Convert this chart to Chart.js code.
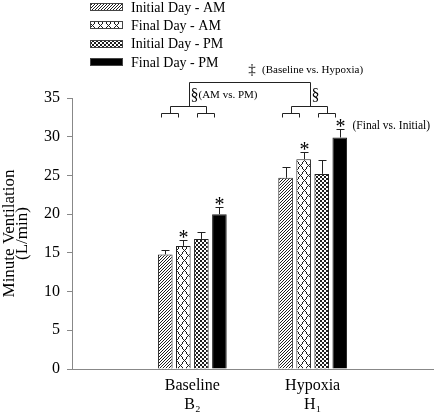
<!DOCTYPE html>
<html><head><meta charset="utf-8">
<script src="https://cdn.jsdelivr.net/npm/chart.js@4/dist/chart.umd.min.js"></script>
<style>html,body{margin:0;padding:0;background:#fff}#wrap{width:440px;height:420px}</style>
</head><body><div id="wrap"><canvas id="c" width="440" height="420"></canvas></div>
<script>
// ---- data ----
const categories = [['Baseline', 'B\u2082'], ['Hypoxia', 'H\u2081']];
const seriesNames = ['Initial Day - AM', 'Final Day - AM', 'Initial Day - PM', 'Final Day - PM'];
const initialAM = [14.8, 24.7];
const finalAM   = [15.9, 27.1];
const initialPM = [16.8, 25.2];
const finalPM   = [20.0, 29.9];
const errInitialAM = [0.6, 1.4];
const errFinalAM   = [0.8, 0.9];
const errInitialPM = [0.9, 1.8];
const errFinalPM   = [0.9, 1.1];
const sigInitialAM = [false, false];
const sigFinalAM   = [true, true];
const sigInitialPM = [false, false];
const sigFinalPM   = [true, true];
const yTicks = [0, 5, 10, 15, 20, 25, 30, 35];
const yTitle = ['Minute Ventilation', '(L/min)'];
const noteTop = '(Baseline vs. Hypoxia)';
const noteGroup = '(AM vs. PM)';
const noteStar = '(Final vs. Initial)';
// annotation levels in value units
const pairLevel = 33.0, groupLevel = 34.0, topLevel = 37.1;

const SERIF = '"Liberation Serif", "Times New Roman", serif';

function makePattern(kind) {
  const c = document.createElement('canvas');
  let w = 4, h = 4;
  if (kind === 'diag') { w = 3; h = 3; }
  if (kind === 'diamond') { w = 8; h = 10; }
  c.width = w; c.height = h;
  const ctx = c.getContext('2d');
  const img = ctx.createImageData(w, h);
  const set = (x, y, v) => { const i = (y * w + x) * 4; img.data[i] = v; img.data[i+1] = v; img.data[i+2] = v; img.data[i+3] = 255; };
  for (let y = 0; y < h; y++) for (let x = 0; x < w; x++) {
    let dark = false;
    if (kind === 'diag') dark = ((x + y) % 3) === 2;
    if (kind === 'check') dark = ((Math.floor(x / 2) + Math.floor(y / 2)) % 2) === 0;
    if (kind === 'diamond') {
      const a = Math.round(y * w / h);
      dark = (x === a % w) || (x === (w - a) % w);
    }
    set(x, y, dark ? 30 : 255);
  }
  ctx.putImageData(img, 0, 0);
  return ctx.createPattern(c, 'repeat');
}

const fills = [makePattern('diag'), makePattern('diamond'), makePattern('check'), '#000'];
const values = [initialAM, finalAM, initialPM, finalPM];
const errors = [errInitialAM, errFinalAM, errInitialPM, errFinalPM];
const sigs = [sigInitialAM, sigFinalAM, sigInitialPM, sigFinalPM];

// pad categories so the x axis runs full width
const labels = [''].concat(categories).concat(['']);
const pad = arr => [null].concat(arr).concat([null]);

const datasets = seriesNames.map((name, i) => ({
  label: name,
  data: pad(values[i]),
  backgroundColor: fills[i],
  borderColor: '#222',
  borderWidth: 1,
  categoryPercentage: 0.6,
  barPercentage: 0.81
}));

const legendPlugin = {
  id: 'customLegend',
  afterDraw(chart) {
    const ctx = chart.ctx;
    ctx.save();
    chart.data.datasets.forEach((ds, i) => {
      const cy = 7 + i * 18.3;
      const bx = 90, bw = 33, bh = 8;
      ctx.fillStyle = ds.backgroundColor;
      ctx.fillRect(bx, Math.round(cy - bh / 2), bw, bh);
      ctx.strokeStyle = '#444';
      ctx.lineWidth = 1;
      ctx.strokeRect(bx + 0.5, Math.round(cy - bh / 2) + 0.5, bw - 1, bh - 1);
      ctx.fillStyle = '#000';
      ctx.font = '14px ' + SERIF;
      ctx.textBaseline = 'middle';
      ctx.textAlign = 'left';
      ctx.fillText(ds.label, 131, cy + 1);
    });
    ctx.restore();
  }
};

function drawStar(ctx, x, cy) {
  ctx.font = '20px ' + SERIF;
  const m = ctx.measureText('*');
  const a = m.actualBoundingBoxAscent, d = m.actualBoundingBoxDescent;
  ctx.textAlign = 'center';
  ctx.textBaseline = 'alphabetic';
  ctx.fillText('*', x, cy + (a - d) / 2);
  return m;
}

const annotPlugin = {
  id: 'annot',
  afterDatasetsDraw(chart) {
    const ctx = chart.ctx;
    const ys = chart.scales.y;
    ctx.save();
    ctx.strokeStyle = '#222';
    ctx.fillStyle = '#000';
    ctx.lineWidth = 1;
    const metas = chart.data.datasets.map((d, i) => chart.getDatasetMeta(i));
    // error bars + stars
    for (let s = 0; s < metas.length; s++) {
      for (let g = 0; g < categories.length; g++) {
        const bar = metas[s].data[g + 1];
        const v = values[s][g], e = errors[s][g];
        const x = Math.round(bar.x) + 0.5;
        const yTop = Math.round(ys.getPixelForValue(v + e)) + 0.5;
        const yBar = ys.getPixelForValue(v);
        ctx.beginPath();
        ctx.moveTo(x, yBar); ctx.lineTo(x, yTop);
        ctx.moveTo(x - 4, yTop); ctx.lineTo(x + 4, yTop);
        ctx.stroke();
        if (sigs[s][g]) {
          drawStar(ctx, x, yTop - 7);
          if (s === 3 && g === categories.length - 1) {
            ctx.font = '11.5px ' + SERIF;
            ctx.textAlign = 'left';
            ctx.textBaseline = 'middle';
            ctx.fillText(noteStar, x + 12, yTop - 4);
          }
        }
      }
    }
    // brackets
    const yPair = Math.round(ys.getPixelForValue(pairLevel)) + 0.5;
    const yGroup = Math.round(ys.getPixelForValue(groupLevel)) + 0.5;
    const yTopL = Math.round(ys.getPixelForValue(topLevel)) + 0.5;
    const legLen = 4;
    const mids = [];
    for (let g = 0; g < categories.length; g++) {
      const bx = metas.map(m => m.data[g + 1].x);
      const pairMid = [];
      [[0, 1], [2, 3]].forEach(([a, b]) => {
        const xl = Math.round(bx[a] - 4) + 0.5, xr = Math.round(bx[b] - 5) + 0.5;
        ctx.beginPath();
        ctx.moveTo(xl, yPair + legLen); ctx.lineTo(xl, yPair); ctx.lineTo(xr, yPair); ctx.lineTo(xr, yPair + legLen);
        const xm = Math.round((xl + xr) / 2) + 0.5;
        ctx.moveTo(xm, yPair); ctx.lineTo(xm, yGroup);
        ctx.stroke();
        pairMid.push(xm);
      });
      ctx.beginPath();
      ctx.moveTo(pairMid[0], yGroup); ctx.lineTo(pairMid[1], yGroup);
      const gm = Math.round((pairMid[0] + pairMid[1]) / 2) + 0.5;
      ctx.moveTo(gm, yGroup); ctx.lineTo(gm, yTopL);
      ctx.stroke();
      mids.push(gm);
      // section symbol
      ctx.font = '16px ' + SERIF;
      ctx.textAlign = 'left';
      ctx.textBaseline = 'middle';
      const sy = (yGroup + yTopL) / 2 + 1;
      ctx.fillText('\u00a7', gm + 1, sy);
      if (g === 0) {
        const w = ctx.measureText('\u00a7').width;
        ctx.font = '11px ' + SERIF;
        ctx.fillText(noteGroup, gm + 1 + w, sy);
      }
    }
    ctx.beginPath();
    ctx.moveTo(mids[0], yTopL); ctx.lineTo(mids[mids.length - 1], yTopL);
    ctx.stroke();
    const cx = (mids[0] + mids[mids.length - 1]) / 2;
    ctx.font = '15px ' + SERIF;
    ctx.textAlign = 'center';
    ctx.textBaseline = 'middle';
    ctx.fillText('\u2021', cx + 2, yTopL - 12);
    ctx.font = '11px ' + SERIF;
    ctx.textAlign = 'left';
    ctx.fillText(noteTop, cx + 12, yTopL - 12);
    ctx.restore();
  }
};

new Chart(document.getElementById('c'), {
  type: 'bar',
  data: { labels, datasets },
  options: {
    responsive: false,
    animation: false,
    devicePixelRatio: 1,
    layout: { padding: { top: 98, left: 0, right: 0, bottom: 0 } },
    plugins: { legend: { display: false }, tooltip: { enabled: false } },
    scales: {
      x: {
        type: 'category',
        offset: false,
        grid: { display: false, drawTicks: false },
        border: { display: true, color: '#888', width: 1 },
        ticks: { color: '#000', font: { family: SERIF, size: 16, lineHeight: 1.2 }, padding: 7, maxRotation: 0, autoSkip: false },
        afterFit(scale) { scale.height = 51; }
      },
      y: {
        min: 0, max: 35,
        afterBuildTicks(scale) { scale.ticks = yTicks.map(v => ({ value: v })); },
        grid: { drawOnChartArea: false, drawTicks: true, tickLength: 5, color: '#888' },
        border: { display: true, color: '#888', width: 1 },
        ticks: { color: '#000', font: { family: SERIF, size: 16 }, padding: 7 },
        title: { display: true, text: yTitle, color: '#000', font: { family: SERIF, size: 17, lineHeight: 0.78 }, padding: { top: 3, bottom: 0 } },
        afterFit(scale) { scale.width = 72; }
      }
    }
  },
  plugins: [legendPlugin, annotPlugin]
});
</script>
</body></html>
